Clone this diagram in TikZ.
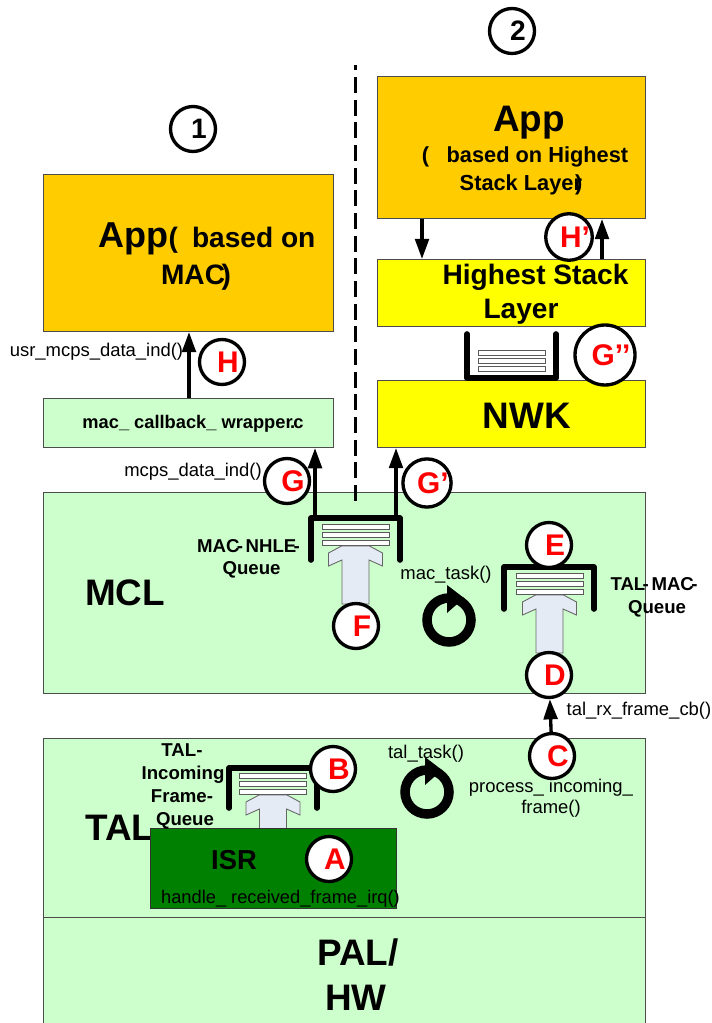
\documentclass[tikz,border=0pt]{standalone}
\usepackage{fontspec}
\setmainfont{Liberation Sans}
\usetikzlibrary{arrows.meta}
\definecolor{mamber}{rgb}{1.0, 0.8, 0.0}
\definecolor{mgreen}{rgb}{0.8, 1.0, 0.8}
\definecolor{myellow}{rgb}{1.0, 1.0, 0.0}
\definecolor{misr}{rgb}{0.0, 0.5, 0.0}
\definecolor{mpush}{rgb}{0.9, 0.92, 0.96}
\tikzset{lyr/.style = {draw=black!70, line width = 0.6pt, anchor = north west, inner sep = 0}}
\tikzset{tag/.style = {draw, fill=white, circle, inner sep = 0, minimum size = 0.9cm, line width = 1.9pt,
                       text=red, font=\fontsize{17}{20}\selectfont\bfseries,
                       execute at begin node={\kern 6.8pt}}}
\tikzset{numtag/.style = {tag, text=black, font=\fontsize{16}{20}\selectfont\bfseries}}
\tikzset{flow/.style = {line width = 1.9pt, -{Triangle[width=7.8pt, length=11.5pt]}}}
\tikzset{qwall/.style = {line width = 3.2pt, line cap=round, line join=round}}
\tikzset{qbar/.style = {draw=black!65, fill=white, line width = 0.5pt}}
\tikzset{qpush/.style = {draw=black!60, fill=mpush, line width = 0.5pt}}
\tikzset{bigtext/.style = {font=\fontsize{21}{25}\selectfont\bfseries, inner sep = 0}}
\tikzset{midtext/.style = {font=\fontsize{16}{20}\selectfont\bfseries, inner sep = 0, align=center}}
\tikzset{smalltext/.style = {font=\fontsize{10.6}{13}\selectfont\bfseries, inner sep = 0, align=center}}
\tikzset{calltext/.style = {font=\fontsize{10.5}{12}\selectfont, inner sep = 0, align=center}}
\newcommand{\qbars}[2]{\foreach \k in {0, 8, 16} \draw [qbar] (#1, #2+\k) rectangle ++(67, 5.5);}
\newcommand{\qpusher}[3]{\draw [qpush] (#1-13.5, #3) -- (#1-13.5, #2+14) -- (#1-27, #2+20) -- (#1-27, #2+7)
    -- (#1-14, #2) -- (#1+14, #2) -- (#1+27, #2+7) -- (#1+27, #2+20) -- (#1+13.5, #2+14) -- (#1+13.5, #3) -- cycle;}
\newcommand{\taskloop}[2]{\draw [line width = 5.4pt] (#1, #2) circle (22);
    \fill (#1-2, #2-35) -- (#1+15, #2-22) -- (#1-2, #2-7) -- cycle;}

\begin{document}
\begin{tikzpicture}[x=0.02cm, y=-0.02cm]
      \useasboundingbox (0, 0) rectangle (712, 1023);

      % layers
      \node (appmac) [lyr, fill=mamber, minimum width = 5.8cm, minimum height = 3.14cm] at (43, 174) {};
      \node (appstack) [lyr, fill=mamber, minimum width = 5.36cm, minimum height = 2.84cm] at (377, 76) {};
      \node (highest) [lyr, fill=myellow, minimum width = 5.36cm, minimum height = 1.34cm] at (377, 259) {};
      \node (nwk) [lyr, fill=myellow, minimum width = 5.36cm, minimum height = 1.34cm] at (377, 380) {};
      \node (wrapper) [lyr, fill=mgreen, minimum width = 5.8cm, minimum height = 0.98cm] at (43, 398) {};
      \node (mcl) [lyr, fill=mgreen, minimum width = 12.04cm, minimum height = 4.02cm] at (43, 492) {};
      \node (tal) [lyr, fill=mgreen, minimum width = 12.04cm, minimum height = 3.58cm] at (43, 738) {};
      \node (pal) [lyr, fill=mgreen, minimum width = 12.04cm, minimum height = 2.12cm] at (43, 917) {};

      \coordinate (dashtop) at (355, 65);
      \coordinate (dashend) at (355, 502);
      \draw [line width = 1.7pt, dash pattern=on 9pt off 3.9pt, dash phase=6pt] (dashtop) -- (dashend);

      % queues
      \qbars{322}{524}
      \qpusher{355.5}{546}{604}
      \draw [qwall] (311, 560) |- (400, 518) -- (400, 560);
      \qbars{516}{573}
      \qpusher{549.5}{595}{653}
      \draw [qwall] (504, 609) |- (594, 567) -- (594, 609);
      \qbars{239}{773}
      \qpusher{273}{795}{830}
      \draw [qwall] (229, 808) |- (317, 768) -- (317, 808);
      \qbars{478}{350}
      \draw [qwall] (467, 334) |- (556, 378) -- (556, 334);

      \taskloop{449}{620}
      \taskloop{427}{792}

      \node (taltext) [bigtext, anchor=base] at (120, 840) {TAL};
      \node (isr) [lyr, fill=misr, draw=black!80, minimum width = 4.92cm, minimum height = 1.6cm] at (150, 828) {};

      % tags
      \node (ta) [tag] at (329, 859) {A};
      \node (tb) [tag] at (333, 769) {B};
      \node (tc) [tag] at (552, 756) {C};
      \node (td) [tag] at (549, 675) {D};
      \node (te) [tag] at (549, 545) {E};
      \node (tf) [tag] at (356, 626) {F};
      \node (tg) [tag] at (287, 481) {G};
      \node (tgi) [tag] at (427, 483) {G’};
      \node (tgii) [tag, minimum size = 1.2cm] at (605, 355) {G’’};
      \node (th) [tag] at (222, 362) {H};
      \node (thi) [tag] at (569, 237) {H’};
      \node (one) [numtag] at (193, 129) {1};
      \node (two) [numtag] at (512, 31) {2};

      % arrows
      \coordinate (hx) at (189, 0);
      \coordinate (gx) at (315, 518);
      \coordinate (gix) at (396, 518);
      \coordinate (downx) at (422, 0);
      \coordinate (upx) at (602, 0);
      \draw [flow] (tc) -- (td);
      \draw [flow] (hx |- wrapper.north) -- (hx |- appmac.south);
      \draw [flow] (gx) -- (gx |- wrapper.south);
      \draw [flow] (gix) -- (gix |- nwk.south);
      \draw [flow] (downx |- appstack.south) -- (downx |- highest.north);
      \draw [flow] (upx |- highest.north) -- (upx |- appstack.south);

      % texts
      \node (apptext) [midtext, anchor=base] at (207, 248) {{\fontsize{20.5}{25}\selectfont App}(\kern 8pt based on};
      \node (mactext) [midtext, anchor=base] at (196, 285) {MAC\kern -2pt)};
      \node (appstacktext) [bigtext, anchor=base] at (529, 132) {App};
      \node (basedtext) [anchor=base, inner sep = 0, font=\fontsize{12.4}{15}\selectfont\bfseries] at (525, 163) {(\kern 10pt based on Highest};
      \node (stacktext) [anchor=base, inner sep = 0, font=\fontsize{12.4}{15}\selectfont\bfseries] at (521, 191) {Stack Layer\kern -4pt)};
      \node (hitext) [midtext, anchor=base] at (535.5, 285) {Highest Stack};
      \node (latext) [midtext, anchor=base] at (521, 319) {Layer};
      \node (nwktext) [bigtext, anchor=base] at (527, 428) {NWK};
      \node (wraptext) [smalltext, anchor=base, font=\fontsize{10.4}{13}\selectfont\bfseries] at (193, 428) {mac\_ callback\_ wrapper\kern -1.5pt.\kern -1pt c};
      \node (usrtext) [calltext, anchor=base] at (96.5, 357) {usr\_mcps\_data\_ind()};
      \node (mcpstext) [calltext, anchor=base] at (193, 476) {mcps\_data\_ind()};
      \node (mcltext) [bigtext, anchor=base] at (125, 605) {MCL};
      \node (nhletext) [smalltext, anchor=base] at (248.5, 552) {MAC\kern -1.5pt-\kern 1.5pt NHLE\kern -1.5pt-};
      \node (nhleq) [smalltext, anchor=base] at (251.5, 574) {Queue};
      \node (mactask) [calltext, anchor=base] at (446, 579) {mac\_task()};
      \node (talmactext) [smalltext, anchor=base] at (654, 590) {TAL\kern -1.5pt-\kern 1.5pt MAC\kern -1.5pt-};
      \node (talmacq) [smalltext, anchor=base] at (657, 613) {Queue};
      \node (rxtext) [calltext, anchor=base] at (639, 715) {tal\_rx\_frame\_cb()};
      \node (taltask) [calltext, anchor=base] at (426, 758) {tal\_task()};
      \node (proctext) [calltext, anchor=base] at (551, 792) {process\_ incoming\_};
      \node (frametext) [calltext, anchor=base] at (551, 813) {frame()};
      \node (intext) [smalltext, anchor=base] at (182, 756) {TAL-};
      \node (intextb) [smalltext, anchor=base] at (183, 779) {Incoming};
      \node (intextc) [smalltext, anchor=base] at (182, 802) {Frame-};
      \node (intextd) [smalltext, anchor=base] at (185, 825) {Queue};
      \node (isrtext) [anchor=base, inner sep = 0, font=\fontsize{15.6}{18}\selectfont\bfseries] at (234, 869) {ISR};
      \node (irqtext) [calltext, anchor=base, font=\fontsize{10.4}{12}\selectfont] at (280.5, 903) {handle\_ received\_frame\_irq()};
      \node (paltext) [bigtext, anchor=base] at (358, 965) {PAL/};
      \node (hwtext) [bigtext, anchor=base] at (356, 1010) {HW};
\end{tikzpicture}
\end{document}
